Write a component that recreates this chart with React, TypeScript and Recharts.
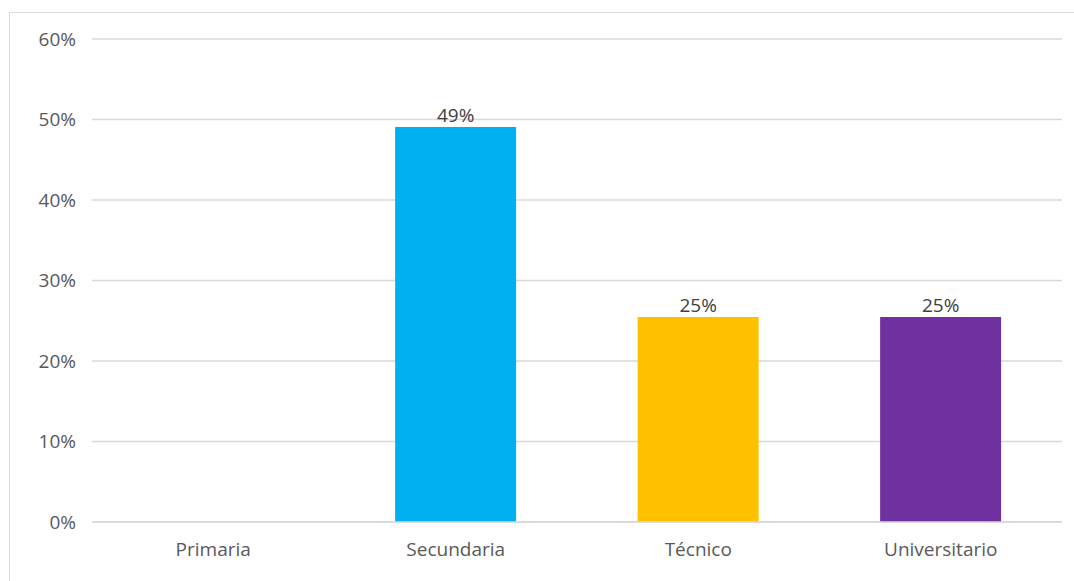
import { BarChart, Bar, XAxis, YAxis, CartesianGrid, LabelList, Cell } from 'recharts';

const categories = ['Primaria', 'Secundaria', 'Técnico', 'Universitario'];
const shares = [0, 49.06, 25.47, 25.47];
const barColors = ['#5B9BD5', '#00B0F0', '#FFC000', '#7030A0'];
const yTicks = [0, 10, 20, 30, 40, 50, 60];

const data = categories.map((name, i) => ({ name, value: shares[i] }));

const font = '"Open Sans", "DejaVu Sans", sans-serif';

export default function App() {
  return (
    <div style={{ position: 'absolute', left: 0, top: 0, width: 1074, height: 581, background: '#fff' }}>
      <div
        style={{
          position: 'absolute',
          left: 9,
          top: 12,
          width: 1100,
          height: 600,
          border: '1px solid #D9D9D9',
        }}
      />
      <div style={{ position: 'absolute', left: 0, top: 0 }}>
        <BarChart
          width={1074}
          height={581}
          data={data}
          margin={{ top: 39, right: 12, bottom: 19, left: 0 }}
          barCategoryGap="25%"
        >
          <CartesianGrid vertical={false} stroke="#D9D9D9" strokeWidth={1.5} />
          <XAxis
            dataKey="name"
            height={40}
            axisLine={{ stroke: '#D9D9D9', strokeWidth: 1.5 }}
            tickLine={false}
            tickSize={0}
            tickMargin={21}
            tick={{ fill: '#595959', fontSize: 19, fontFamily: font }}
          />
          <YAxis
            width={92}
            domain={[0, 60]}
            ticks={yTicks}
            axisLine={false}
            tickLine={false}
            tickSize={0}
            tickMargin={16}
            tickFormatter={(v: number) => `${v}%`}
            tick={{ fill: '#595959', fontSize: 19, fontFamily: font }}
          />
          <Bar dataKey="value" isAnimationActive={false}>
            {data.map((d, i) => (
              <Cell key={d.name} fill={barColors[i]} />
            ))}
            <LabelList
              dataKey="value"
              position="top"
              offset={5}
              fill="#404040"
              fontSize={19}
              fontFamily={font}
              formatter={(v: number) => (v > 0 ? `${Math.round(v)}%` : '')}
            />
          </Bar>
        </BarChart>
      </div>
    </div>
  );
}
